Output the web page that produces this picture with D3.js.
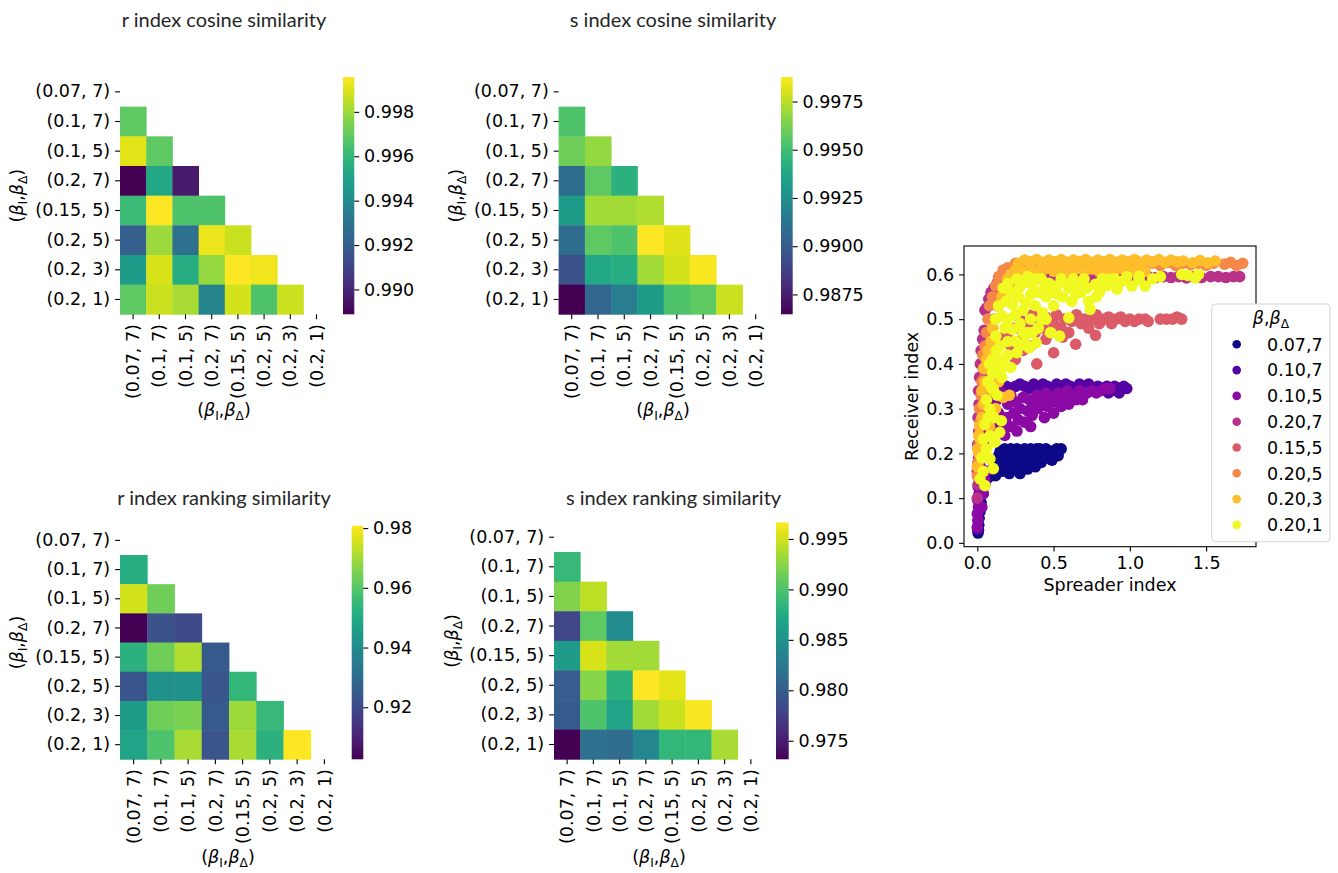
<!DOCTYPE html>
<html>
<head>
<meta charset="utf-8">
<script src="https://cdn.jsdelivr.net/npm/d3@7"></script>
<style>
  body { margin: 0; background: #fff; }
  svg text { font-family: "DejaVu Sans", sans-serif; }
  svg text.title { font-family: Lato, "Open Sans", sans-serif; }
</style>
</head>
<body>
<svg id="chart" width="1338" height="873"></svg>
<script>
// ---- data ---------------------------------------------------------------
const pairLabels = ["(0.07, 7)", "(0.1, 7)", "(0.1, 5)", "(0.2, 7)", "(0.15, 5)", "(0.2, 5)", "(0.2, 3)", "(0.2, 1)"];

// lower triangle, rows 2..8 (row k has k entries)
const rCosine = [
  [0.99690],
  [0.99910, 0.99690],
  [0.98888, 0.99529, 0.98963],
  [0.99615, 0.99957, 0.99658, 0.99658],
  [0.99209, 0.99797, 0.99283, 0.99925, 0.99871],
  [0.99476, 0.99893, 0.99550, 0.99786, 0.99950, 0.99936],
  [0.99690, 0.99871, 0.99818, 0.99369, 0.99882, 0.99658, 0.99871]
];
const sCosine = [
  [0.99533],
  [0.99606, 0.99680],
  [0.99078, 0.99570, 0.99434],
  [0.99324, 0.99705, 0.99705, 0.99729],
  [0.99078, 0.99570, 0.99533, 0.99877, 0.99816],
  [0.98955, 0.99385, 0.99410, 0.99705, 0.99791, 0.99865],
  [0.98647, 0.99053, 0.99164, 0.99324, 0.99533, 0.99570, 0.99779]
];
const rRanking = [
  [0.95106],
  [0.97530, 0.96357],
  [0.90257, 0.92212, 0.91977],
  [0.95262, 0.96357, 0.97139, 0.92447],
  [0.92290, 0.94167, 0.94167, 0.92290, 0.95418],
  [0.94558, 0.96357, 0.96513, 0.92447, 0.96904, 0.95497],
  [0.94793, 0.95887, 0.97061, 0.92290, 0.97061, 0.95262, 0.98077]
];
const sRanking = [
  [0.98889],
  [0.99218, 0.99429],
  [0.97809, 0.99077, 0.98443],
  [0.98607, 0.99523, 0.99335, 0.99335],
  [0.97997, 0.99241, 0.98819, 0.99664, 0.99570],
  [0.97973, 0.99007, 0.98678, 0.99335, 0.99476, 0.99640],
  [0.97316, 0.98185, 0.98138, 0.98396, 0.98866, 0.98866, 0.99359]
];

const rCosineTicks = [0.990, 0.992, 0.994, 0.996, 0.998];
const sCosineTicks = [0.9875, 0.9900, 0.9925, 0.9950, 0.9975];
const rRankingTicks = [0.92, 0.94, 0.96, 0.98];
const sRankingTicks = [0.975, 0.980, 0.985, 0.990, 0.995];

const seriesLabels = ["0.07,7", "0.10,7", "0.10,5", "0.20,7", "0.15,5", "0.20,5", "0.20,3", "0.20,1"];

// [spreader index, receiver index]
const scatter_007_7 = [[0.005,0.022],[0.008,0.028],[0.01,0.04],[0.012,0.055],[0.018,0.07],[0.025,0.09],[0.035,0.11],[0.05,0.13],[0.07,0.145],[0.09,0.15],[0.1,0.165],[0.12,0.15],[0.13,0.175],[0.14,0.195],[0.15,0.205],[0.16,0.16],[0.17,0.185],[0.18,0.21],[0.19,0.17],[0.2,0.195],[0.21,0.155],[0.22,0.21],[0.23,0.18],[0.24,0.2],[0.25,0.165],[0.26,0.21],[0.27,0.19],[0.28,0.155],[0.29,0.205],[0.3,0.175],[0.31,0.21],[0.32,0.19],[0.33,0.165],[0.34,0.2],[0.35,0.21],[0.36,0.185],[0.37,0.2],[0.38,0.17],[0.39,0.21],[0.4,0.195],[0.41,0.21],[0.42,0.18],[0.43,0.2],[0.45,0.21],[0.46,0.19],[0.48,0.205],[0.49,0.185],[0.5,0.2],[0.52,0.21],[0.53,0.195],[0.55,0.21],[0.2,0.175],[0.27,0.17],[0.44,0.19]];
const scatter_010_7 = [[0.003,0.03],[0.006,0.05],[0.01,0.07],[0.012,0.1],[0.02,0.13],[0.025,0.16],[0.03,0.19],[0.04,0.22],[0.05,0.25],[0.06,0.28],[0.08,0.3],[0.1,0.32],[0.13,0.335],[0.16,0.345],[0.19,0.35],[0.22,0.345],[0.25,0.35],[0.28,0.355],[0.31,0.35],[0.34,0.345],[0.37,0.355],[0.4,0.35],[0.43,0.355],[0.46,0.35],[0.49,0.345],[0.52,0.355],[0.55,0.35],[0.58,0.355],[0.61,0.35],[0.64,0.345],[0.67,0.355],[0.7,0.35],[0.73,0.355],[0.76,0.345],[0.79,0.35],[0.82,0.345],[0.85,0.35],[0.88,0.34],[0.9,0.35],[0.92,0.34],[0.94,0.345],[0.96,0.35],[0.98,0.345],[0.86,0.335],[0.93,0.335]];
const scatter_010_5 = [[0.0,0.035],[0.004,0.05],[0.0,0.065],[0.008,0.08],[0.003,0.095],[0.012,0.11],[0.006,0.125],[0.015,0.14],[0.008,0.155],[0.02,0.17],[0.012,0.185],[0.025,0.2],[0.015,0.215],[0.03,0.23],[0.02,0.245],[0.035,0.26],[0.03,0.275],[0.04,0.29],[0.05,0.305],[0.06,0.32],[0.03,0.08],[0.04,0.11],[0.05,0.14],[0.06,0.16],[0.12,0.26],[0.14,0.29],[0.13,0.32],[0.16,0.335],[0.17,0.255],[0.19,0.28],[0.2,0.31],[0.22,0.33],[0.22,0.26],[0.24,0.29],[0.25,0.315],[0.27,0.275],[0.28,0.3],[0.3,0.325],[0.31,0.27],[0.33,0.295],[0.34,0.32],[0.36,0.285],[0.37,0.31],[0.39,0.33],[0.4,0.3],[0.42,0.32],[0.44,0.28],[0.45,0.335],[0.46,0.305],[0.48,0.325],[0.5,0.29],[0.51,0.315],[0.53,0.335],[0.55,0.305],[0.57,0.325],[0.59,0.34],[0.6,0.31],[0.62,0.33],[0.65,0.32],[0.67,0.34],[0.69,0.32],[0.72,0.335],[0.75,0.34],[0.78,0.335],[0.81,0.34],[0.84,0.345],[0.87,0.345],[0.18,0.24],[0.26,0.25],[0.35,0.26]];
const scatter_020_7 = [[0.0,0.1],[0.005,0.13],[0.0,0.16],[0.008,0.19],[0.003,0.22],[0.01,0.25],[0.005,0.28],[0.012,0.31],[0.008,0.34],[0.015,0.37],[0.02,0.4],[0.025,0.43],[0.035,0.455],[0.045,0.475],[0.05,0.52],[0.06,0.525],[0.075,0.545],[0.09,0.56],[0.11,0.57],[0.13,0.58],[0.16,0.59],[0.19,0.595],[0.22,0.6],[0.27,0.59],[0.32,0.6],[0.37,0.595],[0.42,0.59],[0.47,0.6],[0.52,0.595],[0.57,0.59],[0.62,0.6],[0.67,0.595],[0.72,0.59],[0.77,0.6],[0.82,0.595],[0.87,0.59],[0.92,0.6],[0.97,0.595],[1.02,0.59],[1.07,0.6],[1.12,0.595],[1.17,0.593],[1.22,0.595],[1.27,0.593],[1.32,0.595],[1.37,0.592],[1.42,0.595],[1.47,0.593],[1.53,0.595],[1.58,0.595],[1.63,0.593],[1.68,0.595],[1.72,0.595]];
const scatter_015_5 = [[0.005,0.18],[0.01,0.22],[0.02,0.26],[0.025,0.3],[0.035,0.34],[0.045,0.37],[0.06,0.4],[0.08,0.42],[0.11,0.435],[0.14,0.45],[0.17,0.46],[0.2,0.47],[0.25,0.48],[0.28,0.5],[0.3,0.46],[0.33,0.49],[0.36,0.51],[0.38,0.47],[0.4,0.5],[0.43,0.48],[0.45,0.505],[0.48,0.47],[0.5,0.49],[0.52,0.51],[0.55,0.48],[0.57,0.5],[0.6,0.47],[0.62,0.495],[0.65,0.51],[0.68,0.49],[0.7,0.5],[0.73,0.48],[0.75,0.5],[0.78,0.51],[0.8,0.49],[0.83,0.5],[0.86,0.505],[0.88,0.49],[0.91,0.5],[0.94,0.505],[0.97,0.495],[1.0,0.5],[1.03,0.495],[1.06,0.5],[1.1,0.5],[1.12,0.495],[1.2,0.5],[1.24,0.5],[1.28,0.5],[1.31,0.505],[1.34,0.5],[0.39,0.4],[0.5,0.425],[0.645,0.444],[0.775,0.464],[0.45,0.455],[0.56,0.46],[0.35,0.44],[0.3,0.43],[0.22,0.44],[0.25,0.41]];
const scatter_020_5 = [[0.0,0.15],[0.008,0.18],[0.004,0.21],[0.012,0.24],[0.018,0.27],[0.015,0.3],[0.025,0.33],[0.03,0.36],[0.04,0.39],[0.035,0.42],[0.05,0.44],[0.06,0.47],[0.07,0.5],[0.08,0.53],[0.1,0.55],[0.12,0.575],[0.14,0.595],[0.17,0.61],[0.07,0.43],[0.09,0.47],[0.11,0.5],[0.13,0.53],[0.16,0.555],[0.2,0.57],[0.25,0.58],[0.07,0.36],[0.2,0.615],[0.25,0.625],[0.3,0.615],[0.35,0.625],[0.4,0.62],[0.45,0.627],[0.5,0.618],[0.55,0.625],[0.6,0.62],[0.65,0.628],[0.7,0.62],[0.75,0.625],[0.8,0.618],[0.85,0.627],[0.9,0.62],[0.95,0.625],[1.0,0.62],[1.05,0.628],[1.1,0.62],[1.15,0.625],[1.2,0.62],[1.25,0.627],[1.3,0.62],[1.35,0.625],[1.4,0.622],[1.45,0.625],[1.5,0.62],[1.55,0.625],[1.62,0.623],[1.66,0.627],[1.7,0.62],[1.74,0.625]];
const scatter_020_3 = [[0.0,0.17],[0.005,0.21],[0.01,0.24],[0.01,0.2],[0.02,0.23],[0.015,0.26],[0.03,0.28],[0.04,0.31],[0.03,0.34],[0.05,0.36],[0.045,0.39],[0.06,0.41],[0.07,0.43],[0.09,0.45],[0.1,0.48],[0.12,0.5],[0.14,0.53],[0.16,0.55],[0.18,0.57],[0.2,0.59],[0.08,0.26],[0.12,0.3],[0.17,0.325],[0.21,0.33],[0.1,0.34],[0.14,0.36],[0.22,0.6],[0.25,0.59],[0.27,0.625],[0.31,0.632],[0.35,0.628],[0.39,0.633],[0.43,0.627],[0.47,0.632],[0.51,0.628],[0.55,0.633],[0.59,0.627],[0.63,0.632],[0.67,0.628],[0.71,0.633],[0.75,0.627],[0.79,0.632],[0.83,0.628],[0.87,0.633],[0.91,0.627],[0.95,0.632],[0.99,0.628],[1.03,0.633],[1.07,0.627],[1.11,0.632],[1.15,0.628],[1.19,0.633],[1.23,0.627],[1.27,0.632],[1.31,0.628],[1.35,0.63],[1.41,0.626],[1.46,0.631],[1.51,0.626],[1.56,0.63],[0.25,0.61],[0.3,0.605],[0.35,0.612],[0.4,0.607],[0.45,0.613],[0.5,0.607],[0.55,0.612],[0.6,0.606],[0.65,0.613],[0.7,0.607],[0.75,0.612],[0.8,0.606],[0.85,0.612],[0.9,0.607],[0.95,0.613],[1.0,0.607],[1.05,0.612],[1.1,0.607]];
const scatter_020_1 = [[0.018,0.143],[0.05,0.128],[0.04,0.16],[0.083,0.188],[0.03,0.19],[0.105,0.166],[0.06,0.21],[0.04,0.232],[0.115,0.225],[0.083,0.24],[0.147,0.247],[0.05,0.265],[0.158,0.273],[0.083,0.299],[0.07,0.28],[0.11,0.28],[0.06,0.32],[0.105,0.344],[0.09,0.35],[0.13,0.33],[0.07,0.36],[0.115,0.396],[0.1,0.38],[0.16,0.37],[0.22,0.392],[0.155,0.388],[0.1,0.41],[0.2,0.42],[0.125,0.43],[0.08,0.4],[0.122,0.462],[0.164,0.507],[0.23,0.477],[0.23,0.533],[0.275,0.57],[0.36,0.578],[0.32,0.537],[0.43,0.514],[0.45,0.55],[0.516,0.574],[0.56,0.55],[0.645,0.556],[0.73,0.54],[0.74,0.522],[0.775,0.578],[0.86,0.589],[0.95,0.585],[1.06,0.589],[1.1,0.574],[1.34,0.6],[0.385,0.447],[0.31,0.447],[0.54,0.462],[0.34,0.436],[0.26,0.425],[0.916,0.567],[1.013,0.574],[1.06,0.596],[0.6,0.503],[1.38,0.598],[1.43,0.592],[1.45,0.6],[0.18,0.48],[0.2,0.5],[0.25,0.51],[0.28,0.49],[0.3,0.52],[0.35,0.5],[0.38,0.53],[0.4,0.56],[0.42,0.59],[0.35,0.555],[0.3,0.58],[0.27,0.55],[0.22,0.56],[0.19,0.54],[0.25,0.45],[0.2,0.45],[0.15,0.44],[0.17,0.41],[0.3,0.47],[0.47,0.58],[0.5,0.53],[0.53,0.555],[0.55,0.59],[0.6,0.57],[0.62,0.54],[0.65,0.58],[0.68,0.56],[0.7,0.59],[0.8,0.56],[0.82,0.59],[0.9,0.59],[0.98,0.595],[1.15,0.59],[1.2,0.595],[0.45,0.5],[0.4,0.48],[0.48,0.47],[0.36,0.47],[0.12,0.5],[0.14,0.53],[0.17,0.57],[0.2,0.58],[0.26,0.59],[0.33,0.595],[0.38,0.59],[0.44,0.57],[0.5,0.56],[0.58,0.58],[0.63,0.59],[0.72,0.57],[0.78,0.55],[0.85,0.575],[0.28,0.44],[0.33,0.47],[0.42,0.5]];

const scatterSeries = [scatter_007_7, scatter_010_7, scatter_010_5, scatter_020_7, scatter_015_5, scatter_020_5, scatter_020_3, scatter_020_1];

// ---- layout -------------------------------------------------------------
const FS = 17.5; // tick / label font size (px)
const TICK = 4.9;
const svg = d3.select("#chart");
svg.append("rect").attr("width", 1338).attr("height", 873).attr("fill", "#fff");
const defs = svg.append("defs");

const heatPanels = [
  { title: "r index cosine similarity",  values: rCosine,  ticks: rCosineTicks,  fmt: ".3f",
    cells: [120, 329.6, 77, 314.3],   cb: [343, 354.3],   titleXY: [224, 27],  ylabX: 23,  xlab: [224, 416] },
  { title: "s index cosine similarity",  values: sCosine,  ticks: sCosineTicks,  fmt: ".4f",
    cells: [558.6, 768.8, 77, 314.3], cb: [781, 792.7],   titleXY: [673, 27],  ylabX: 462, xlab: [663, 416] },
  { title: "r index ranking similarity", values: rRanking, ticks: rRankingTicks, fmt: ".2f",
    cells: [120, 338, 525.8, 759.3],  cb: [351.7, 363.3], titleXY: [224, 505], ylabX: 23,  xlab: [228, 863] },
  { title: "s index ranking similarity", values: sRanking, ticks: sRankingTicks, fmt: ".3f",
    cells: [554, 764, 522.4, 759.3],  cb: [776, 788.7],   titleXY: [673.5, 505], ylabX: 458, xlab: [659, 863] }
];

// (β_I, β_Δ) label with italic betas and subscripts
function betaPairLabel(t) {
  t.append("tspan").text("(");
  t.append("tspan").attr("font-style", "italic").text("β");
  t.append("tspan").attr("font-size", FS * 0.7).attr("dy", 4).text("I");
  t.append("tspan").attr("dy", -4).text(",");
  t.append("tspan").attr("font-style", "italic").text("β");
  t.append("tspan").attr("font-size", FS * 0.7).attr("dy", 4).text("Δ");
  t.append("tspan").attr("dy", -4).text(")");
}

function styleAxis(g) {
  g.attr("font-size", FS).attr("font-family", "DejaVu Sans");
  g.selectAll(".tick line").attr("stroke", "#000").attr("stroke-width", 1.1);
  g.selectAll(".tick text").attr("fill", "#000");
}

heatPanels.forEach((p, i) => {
  const [x0, x1, y0, y1] = p.cells;
  const g = svg.append("g");
  const x = d3.scaleBand().domain(pairLabels).range([x0, x1]);
  const y = d3.scaleBand().domain(pairLabels).range([y0, y1]);

  const flat = [];
  p.values.forEach((row, k) => row.forEach((v, j) => flat.push({ r: pairLabels[k + 1], c: pairLabels[j], v })));
  const color = d3.scaleSequential(d3.interpolateViridis).domain(d3.extent(flat, d => d.v));

  g.selectAll("rect.cell").data(flat).join("rect")
    .attr("class", "cell")
    .attr("x", d => x(d.c)).attr("y", d => y(d.r))
    .attr("width", x.bandwidth() + 0.4).attr("height", y.bandwidth() + 0.4)
    .attr("fill", d => color(d.v));

  // y axis
  const ya = g.append("g").attr("transform", `translate(${x0},0)`)
    .call(d3.axisLeft(y).tickSize(TICK).tickPadding(TICK));
  ya.select(".domain").remove();
  styleAxis(ya);

  // x axis, rotated labels
  const xa = g.append("g").attr("transform", `translate(0,${y1})`)
    .call(d3.axisBottom(x).tickSize(TICK).tickPadding(TICK));
  xa.select(".domain").remove();
  styleAxis(xa);
  xa.selectAll(".tick text")
    .attr("transform", "rotate(-90)")
    .attr("text-anchor", "end")
    .attr("x", -(TICK * 2)).attr("y", 0).attr("dy", "0.35em");

  // colorbar
  const gid = "vgrad" + i;
  const grad = defs.append("linearGradient").attr("id", gid)
    .attr("x1", 0).attr("y1", 1).attr("x2", 0).attr("y2", 0);
  d3.range(0, 1.0001, 0.05).forEach(t =>
    grad.append("stop").attr("offset", t).attr("stop-color", d3.interpolateViridis(t)));
  g.append("rect").attr("x", p.cb[0]).attr("y", y0)
    .attr("width", p.cb[1] - p.cb[0]).attr("height", y1 - y0)
    .attr("fill", `url(#${gid})`);
  const cbScale = d3.scaleLinear().domain(color.domain()).range([y1, y0]);
  const ca = g.append("g").attr("transform", `translate(${p.cb[1]},0)`)
    .call(d3.axisRight(cbScale).tickValues(p.ticks).tickFormat(d3.format(p.fmt)).tickSize(TICK).tickPadding(TICK));
  ca.select(".domain").remove();
  styleAxis(ca);

  // title
  g.append("text").attr("class", "title").attr("x", p.titleXY[0]).attr("y", p.titleXY[1])
    .attr("text-anchor", "middle").attr("font-size", 20).attr("fill", "#262626").text(p.title);

  // axis labels
  const yl = g.append("text").attr("font-size", FS).attr("text-anchor", "middle")
    .attr("transform", `translate(${p.ylabX},${(y0 + y1) / 2}) rotate(-90)`);
  betaPairLabel(yl);
  const xl = g.append("text").attr("font-size", FS).attr("text-anchor", "middle")
    .attr("x", p.xlab[0]).attr("y", p.xlab[1]);
  betaPairLabel(xl);
});

// ---- scatter ------------------------------------------------------------
const box = { x0: 964, x1: 1256, y0: 246, y1: 546.7 };
const allPts = scatterSeries.flat();
const xExt = d3.extent(allPts, d => d[0]);
const yExt = d3.extent(allPts, d => d[1]);
const xPad = (xExt[1] - xExt[0]) * 0.05, yPad = (yExt[1] - yExt[0]) * 0.05;
const sx = d3.scaleLinear().domain([xExt[0] - xPad, xExt[1] + xPad]).range([box.x0, box.x1]);
const sy = d3.scaleLinear().domain([yExt[0] - yPad, yExt[1] + yPad]).range([box.y1, box.y0]);
const seriesColor = d3.scaleOrdinal().domain(seriesLabels)
  .range(seriesLabels.map((_, k) => d3.interpolatePlasma(k / (seriesLabels.length - 1))));

const sg = svg.append("g");
scatterSeries.forEach((pts, k) => {
  sg.append("g").selectAll("circle").data(pts).join("circle")
    .attr("cx", d => sx(d[0])).attr("cy", d => sy(d[1])).attr("r", 5.8)
    .attr("fill", seriesColor(seriesLabels[k]));
});

sg.append("rect").attr("x", box.x0).attr("y", box.y0)
  .attr("width", box.x1 - box.x0).attr("height", box.y1 - box.y0)
  .attr("fill", "none").attr("stroke", "#000").attr("stroke-width", 1.1);

const sxa = sg.append("g").attr("transform", `translate(0,${box.y1})`)
  .call(d3.axisBottom(sx).tickValues([0, 0.5, 1.0, 1.5]).tickFormat(d3.format(".1f")).tickSize(TICK).tickPadding(TICK));
sxa.select(".domain").remove();
styleAxis(sxa);
const sya = sg.append("g").attr("transform", `translate(${box.x0},0)`)
  .call(d3.axisLeft(sy).tickValues(d3.range(0, 0.61, 0.1)).tickFormat(d3.format(".1f")).tickSize(TICK).tickPadding(TICK));
sya.select(".domain").remove();
styleAxis(sya);

sg.append("text").attr("x", (box.x0 + box.x1) / 2).attr("y", 591)
  .attr("text-anchor", "middle").attr("font-size", FS).text("Spreader index");
sg.append("text").attr("transform", `translate(918,${(box.y0 + box.y1) / 2}) rotate(-90)`)
  .attr("text-anchor", "middle").attr("font-size", FS).text("Receiver index");

// legend
const lg = svg.append("g");
lg.append("rect").attr("x", 1211.7).attr("y", 304).attr("width", 118.3).attr("height", 237.7)
  .attr("rx", 3.5).attr("fill", "#fff").attr("stroke", "#d4d4d4").attr("stroke-width", 1);
const lt = lg.append("text").attr("x", 1271).attr("y", 324).attr("text-anchor", "middle").attr("font-size", FS);
lt.append("tspan").attr("font-style", "italic").text("β");
lt.append("tspan").text(",");
lt.append("tspan").attr("font-style", "italic").text("β");
lt.append("tspan").attr("font-size", FS * 0.7).attr("dy", 4).text("Δ");
const rows = lg.selectAll("g.entry").data(seriesLabels).join("g")
  .attr("class", "entry")
  .attr("transform", (d, k) => `translate(0,${344.3 + k * 25.8})`);
rows.append("circle").attr("cx", 1236.7).attr("cy", 0).attr("r", 4.3).attr("fill", d => seriesColor(d));
rows.append("text").attr("x", 1267).attr("y", 0).attr("dy", "0.36em").attr("font-size", FS).text(d => d);
</script>
</body>
</html>
